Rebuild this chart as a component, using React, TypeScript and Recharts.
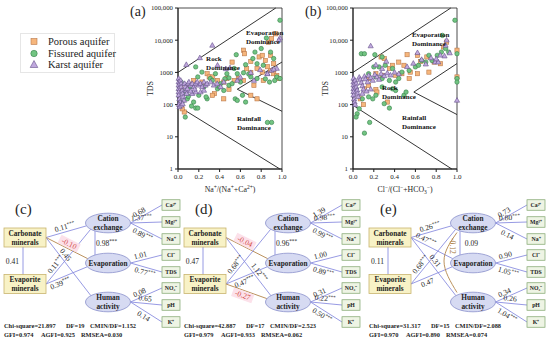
import React from 'react';
import {
  ScatterChart, ComposedChart, Scatter, Line, XAxis, YAxis,
  ReferenceLine, ReferenceArea, Legend,
} from 'recharts';

const FONT = "'Liberation Serif', 'Times New Roman', serif";
const INK = '#1e1e1e';

// ---------- Gibbs diagrams (a) and (b) ----------
const seriesNames = ['Porous aquifer', 'Fissured aquifer', 'Karst aquifer'];
const xTickValues = [0, 0.2, 0.4, 0.6, 0.8, 1];
const yTickValues = [1, 10, 100, 1000, 10000, 100000];

// (a) Na+/(Na+ + Ca2+) against TDS
const porousNa = [
  [0.63, 4900], [0.64, 3800], [0.70, 2190], [0.78, 3020], [0.81, 3390], [0.84, 2340], [0.89, 3390],
  [0.92, 1860], [0.89, 1150], [0.87, 8710], [0.90, 11200], [0.94, 15800], [0.81, 1020], [0.76, 1320],
  [0.70, 977], [0.58, 646], [0.54, 562], [0.63, 562], [0.73, 398], [0.82, 562], [0.92, 912], [0.97, 646],
  [0.28, 912], [0.30, 724], [0.33, 724], [0.38, 562], [0.44, 501], [0.23, 501], [0.15, 562], [0.35, 219],
  [0.33, 195], [0.44, 151], [0.70, 195], [0.76, 151], [0.06, 59], [0.04, 74], [0.03, 309], [0.11, 398],
  [0.47, 646], [0.52, 2090], [0.49, 300], [0.66, 1300], [0.86, 1500], [0.95, 800],
];
const fissuredNa = [
  [0.98, 41700], [0.85, 11700], [0.56, 3550], [0.74, 4270], [0.80, 5500], [0.89, 4270], [0.92, 2690],
  [0.76, 1860], [0.82, 1660], [0.47, 912], [0.49, 676], [0.57, 912], [0.63, 977], [0.70, 724], [0.76, 646],
  [0.88, 501], [0.95, 724], [0.98, 646], [0.17, 1480], [0.23, 1020], [0.19, 724], [0.31, 646], [0.36, 912],
  [0.41, 447], [0.28, 151], [0.27, 174], [0.20, 195], [0.15, 120], [0.09, 151], [0.17, 78], [0.19, 78],
  [0.07, 41], [0.12, 355], [0.06, 245], [0.55, 151], [0.57, 135], [0.62, 195], [0.65, 120], [0.49, 398],
  [0.52, 447], [0.60, 501], [0.54, 1320], [0.65, 1740], [0.72, 2690], [0.86, 28], [0.90, 28], [0.44, 275],
  [0.38, 309], [0.03, 501], [0.04, 120], [0.33, 562], [0.45, 631], [0.25, 355], [0.40, 355], [0.68, 891],
  [0.84, 631], [0.93, 562], [0.10, 180], [0.13, 90],
];
const karstNa = [
  [0.33, 6900], [0.21, 2820], [0.08, 1740], [0.38, 1660], [0.50, 1380], [0.98, 11700], [0.97, 10000],
  [0.95, 1320], [0.90, 1150], [0.86, 912], [0.57, 562], [0.006, 646], [0.006, 501], [0.006, 398],
  [0.006, 309], [0.006, 245], [0.006, 195], [0.013, 151], [0.02, 120], [0.026, 562], [0.03, 447],
  [0.03, 355], [0.04, 275], [0.045, 219], [0.05, 174], [0.058, 135], [0.064, 447], [0.07, 355],
  [0.077, 275], [0.083, 219], [0.09, 309], [0.096, 447], [0.105, 501], [0.12, 398], [0.137, 447],
  [0.153, 355], [0.17, 447], [0.185, 501], [0.2, 398], [0.217, 447], [0.233, 355], [0.25, 501],
  [0.265, 398], [0.28, 447], [0.313, 501], [0.345, 398], [0.377, 447], [0.41, 355], [0.44, 501],
  [0.137, 219], [0.17, 245], [0.217, 245], [0.25, 275], [0.01, 100], [0.015, 85], [0.03, 95],
  [0.045, 105], [0.60, 700], [0.70, 980], [0.79, 1200], [0.86, 900], [0.92, 1250], [0.73, 560],
  [0.46, 1290], [0.12, 260], [0.16, 300],
];
const boundaryNa = [
  [[0, 1000], [0.94, 100000]],
  [[0.57, 300], [1, 2100]],
  [[0.57, 300], [1, 62]],
  [[0, 90], [0.98, 1]],
];
const zonesNa = [
  { x: 0.654, y: 16700, lines: ['Evaporation', 'Dominance'] },
  { x: 0.27, y: 2600, lines: ['Rock', 'Dominance'] },
  { x: 0.567, y: 36, lines: ['Rainfall', 'Dominance'] },
];

// (b) Cl-/(Cl- + HCO3-) against TDS
const porousCl = [
  [0.27, 3020], [0.30, 2690], [0.52, 3550], [0.62, 3390], [0.65, 2190], [0.71, 3020], [0.78, 2090],
  [0.84, 1860], [0.87, 6170], [0.90, 8710], [1.0, 4900], [1.0, 724], [0.44, 2090], [0.49, 1660],
  [0.55, 1020], [0.62, 912], [0.73, 1020], [0.35, 1320], [0.28, 813], [0.22, 912], [0.15, 646],
  [0.11, 309], [0.22, 295], [0.23, 245], [0.15, 398], [0.07, 151], [0.41, 813], [0.38, 1660],
  [0.54, 646], [0.47, 912], [0.33, 120], [0.10, 100],
];
const fissuredCl = [
  [0.98, 41700], [0.86, 14100], [0.89, 5500], [0.92, 4270], [0.85, 4270], [0.81, 3390], [0.73, 3390],
  [0.76, 2340], [0.70, 2090], [1.0, 3800], [1.0, 646], [1.0, 501], [0.08, 3800], [0.11, 3800],
  [0.21, 3550], [0.28, 3020], [0.20, 1480], [0.25, 1480], [0.31, 1660], [0.38, 1320], [0.47, 1020],
  [0.54, 1150], [0.60, 1480], [0.15, 912], [0.22, 724], [0.28, 646], [0.35, 562], [0.41, 501],
  [0.44, 646], [0.38, 309], [0.41, 275], [0.28, 355], [0.22, 195], [0.15, 174], [0.09, 151],
  [0.19, 151], [0.30, 107], [0.35, 78], [0.06, 74], [0.04, 52], [0.03, 41], [0.16, 28], [0.11, 13],
  [0.49, 195], [0.51, 245], [0.03, 309], [0.66, 2340], [0.63, 1660],
];
const karstCl = [
  [0.17, 6600], [0.32, 2190], [0.62, 4070], [0.79, 2090], [0.82, 2090], [0.89, 6900], [0.90, 10000],
  [1.0, 135], [0.005, 650], [0.005, 500], [0.005, 400], [0.005, 310], [0.005, 250], [0.005, 195],
  [0.01, 150], [0.015, 120], [0.02, 100], [0.02, 560], [0.03, 450], [0.03, 350], [0.04, 280],
  [0.045, 220], [0.05, 175], [0.06, 700], [0.07, 600], [0.08, 480], [0.09, 380], [0.10, 300],
  [0.11, 750], [0.12, 620], [0.14, 500], [0.15, 800], [0.17, 680], [0.19, 560], [0.21, 850],
  [0.23, 720], [0.25, 600], [0.27, 900], [0.30, 780], [0.33, 950], [0.36, 820], [0.40, 1000],
  [0.44, 900], [0.22, 1700], [0.28, 1300], [0.52, 1500], [0.58, 1900], [0.66, 2500], [0.70, 1800],
  [0.75, 2800], [0.80, 2600], [0.84, 3400], [0.88, 3200], [0.93, 4000], [0.09, 220], [0.13, 260],
  [0.17, 300],
];
const boundaryCl = [
  [[0, 1000], [0.94, 100000]],
  [[0.585, 245], [1, 1880]],
  [[0.585, 245], [1, 49]],
  [[0, 95], [0.95, 1]],
];
const zonesCl = [
  { x: 0.567, y: 14500, lines: ['Evaporation', 'Dominance'] },
  { x: 0.279, y: 328, lines: ['Rock', 'Dominance'] },
  { x: 0.471, y: 41, lines: ['Rainfall', 'Dominance'] },
];

const MARK = {
  porous: { fill: '#f6b67c', stroke: '#b9784a' },
  fissured: { fill: '#72c482', stroke: '#357f49' },
  karst: { fill: '#c0a8de', stroke: '#655089' },
};

const squareShape = (p: any) => (
  <rect x={p.cx - 2.1} y={p.cy - 2.1} width={4.2} height={4.2}
    fill={MARK.porous.fill} stroke={MARK.porous.stroke} strokeWidth={0.6} />
);
const circleShape = (p: any) => (
  <circle cx={p.cx} cy={p.cy} r={2.2} fill={MARK.fissured.fill} stroke={MARK.fissured.stroke} strokeWidth={0.6} />
);
const triangleShape = (p: any) => (
  <polygon
    points={`${p.cx},${p.cy - 2.8} ${p.cx - 2.6},${p.cy + 1.8} ${p.cx + 2.6},${p.cy + 1.8}`}
    fill={MARK.karst.fill} stroke={MARK.karst.stroke} strokeWidth={0.6} />
);
const zoneShape = (p: any) => (
  <text x={p.cx} y={p.cy} fontFamily={FONT} fontSize={7} fontWeight="bold" fill="#111">
    {p.payload.lines.map((l: string, i: number) => (
      <tspan key={i} x={p.cx} dy={i === 0 ? '0.35em' : 9}>{l}</tspan>
    ))}
  </text>
);

const fmtTds = (v: number) => (v >= 10000 ? v.toLocaleString('en-US') : String(v));
const toPts = (rows: number[][]) => rows.map(([x, y]) => ({ x, y }));

function AquiferLegend() {
  const marks = [
    <rect key="s" x={10} y={2.5} width={6} height={6} fill={MARK.porous.fill} stroke={MARK.porous.stroke} strokeWidth={0.6} />,
    <circle key="c" cx={13} cy={5.5} r={3.2} fill={MARK.fissured.fill} stroke={MARK.fissured.stroke} strokeWidth={0.6} />,
    <polygon key="t" points="13,1.5 9.2,8.5 16.8,8.5" fill={MARK.karst.fill} stroke={MARK.karst.stroke} strokeWidth={0.6} />,
  ];
  return (
    <div style={{
      width: 95, height: 40, border: '1px solid #e6e6e6', boxSizing: 'border-box',
      fontFamily: FONT, fontSize: 10.5, color: '#222', paddingTop: 2,
    }}>
      {seriesNames.map((n, i) => (
        <div key={n} style={{ display: 'flex', alignItems: 'center', height: 11.5 }}>
          <svg width={27} height={11} style={{ flex: 'none' }}>{marks[i]}</svg>
          <span style={{ lineHeight: '11px', whiteSpace: 'nowrap' }}>{n}</span>
        </div>
      ))}
    </div>
  );
}

const supStyle: React.CSSProperties = { fontSize: 5.5, position: 'relative', top: -3 };
const subStyle: React.CSSProperties = { fontSize: 5.5, position: 'relative', top: 1.5 };

function GibbsPlot({ left, tag, porous, fissured, karst, boundary, zones, xTitle, legend }: any) {
  return (
    <div style={{ position: 'absolute', left, top: 0 }}>
      <ScatterChart width={290} height={200} margin={{ top: 8, right: 8, bottom: 11, left: 138 }}>
        <XAxis type="number" dataKey="x" domain={[0, 1]} ticks={xTickValues}
          tickFormatter={(v: number) => v.toFixed(1)}
          tick={{ fontSize: 7, fill: INK, fontFamily: FONT }} tickSize={3} stroke={INK} height={20} />
        <YAxis type="number" dataKey="y" scale="log" domain={[1, 100000]} ticks={yTickValues}
          tickFormatter={fmtTds} tick={{ fontSize: 6.8, fill: INK, fontFamily: FONT }}
          tickSize={3} stroke={INK} width={40}
          label={{
            content: (lp: any) => {
              const vb = lp.viewBox;
              const x = vb.x + 12;
              const y = vb.y + vb.height / 2;
              return (
                <text x={x} y={y} transform={`rotate(-90 ${x} ${y})`} textAnchor="middle"
                  dominantBaseline="central" fontFamily={FONT} fontSize={8} fill={INK}>TDS</text>
              );
            },
          }} />
        <ReferenceArea x1={0} x2={1} y1={1} y2={100000} fill="none" stroke={INK} strokeWidth={0.8} />
        {boundary.map((seg: number[][], i: number) => (
          <ReferenceLine key={i} segment={[{ x: seg[0][0], y: seg[0][1] }, { x: seg[1][0], y: seg[1][1] }]}
            stroke={INK} strokeWidth={0.9} />
        ))}
        <Scatter name={seriesNames[0]} data={toPts(porous)} shape={squareShape} isAnimationActive={false} />
        <Scatter name={seriesNames[1]} data={toPts(fissured)} shape={circleShape} isAnimationActive={false} />
        <Scatter name={seriesNames[2]} data={toPts(karst)} shape={triangleShape} isAnimationActive={false} />
        <Scatter data={zones} shape={zoneShape} legendType="none" isAnimationActive={false} />
        {legend && (
          <Legend layout="horizontal" verticalAlign="middle" align="center"
            content={() => <AquiferLegend />}
            wrapperStyle={{ left: 20, top: 33, width: 95, height: 40 }} />
        )}
      </ScatterChart>
      <div style={{ position: 'absolute', left: 130, top: 4, fontFamily: FONT, fontSize: 14, lineHeight: '16px', color: INK }}>
        {tag}
      </div>
      <div style={{
        position: 'absolute', left: 178, width: 104, top: 185, textAlign: 'center',
        fontFamily: FONT, fontSize: 7.8, lineHeight: '10px', color: INK, whiteSpace: 'nowrap',
      }}>
        {xTitle}
      </div>
    </div>
  );
}

// ---------- SEM path diagrams (c), (d), (e) ----------
const panelTags = ['(c)', '(d)', '(e)'];
const mineralNames = [['Carbonate', 'minerals'], ['Evaporite', 'minerals']];
const latentNames = [['Cation', 'exchange'], ['Evaporation'], ['Human', 'activity']];
const indicatorNames = ['Ca²⁺', 'Mg²⁺', 'Na⁺', 'Cl⁻', 'TDS', 'NO₃⁻', 'pH', 'K⁺'];
const mineralCorr = ['0.41', '0.47', '0.11'];
const cationToEvap = ['0.98***', '0.96***', '0.09'];

const pathsC = [
  ['carb', 'cat', '0.11***'], ['carb', 'evap', '-0.10'], ['carb', 'hum', '0.45'],
  ['evpr', 'cat', '0.11***'], ['evpr', 'evap', '0.39***'],
];
const pathsD = [
  ['carb', 'evap', '-0.04'], ['carb', 'hum', '1.12***'], ['evpr', 'cat', '0.68***'],
  ['evpr', 'evap', '0.47***'], ['evpr', 'hum', '-0.27'],
];
const pathsE = [
  ['carb', 'cat', '0.26***'], ['carb', 'evap', '0.47***'], ['carb', 'hum', '0.31'],
  ['evpr', 'cat', '0.68***'], ['evpr', 'evap', '0.47'],
];
const curvedE = ['cat', 'hum', '-0.12'];

const loadingsC = ['0.68', '1.37***', '0.89***', '1.01', '0.77***', '0.08', '0.65', '0.14'];
const loadingsD = ['1.39', '0.98***', '0.99***', '1.00', '0.89***', '0.31', '0.22***', '0.50***'];
const loadingsE = ['0.73', '0.80***', '0.14', '0.90', '1.05***', '0.34', '0.26', '1.04***'];

const statsC = ['Chi-square=21.897', 'DF=19', 'CMIN/DF=1.152', 'GFI=0.974', 'AGFI=0.925', 'RMSEA=0.030'];
const statsD = ['Chi-square=42.887', 'DF=17', 'CMIN/DF=2.523', 'GFI=0.979', 'AGFI=0.933', 'RMSEA=0.062'];
const statsE = ['Chi-square=31.317', 'DF=15', 'CMIN/DF=2.088', 'GFI=0.970', 'AGFI=0.890', 'RMSEA=0.074'];

// layout of the diagram, in panel pixels
const SEM = {
  w: 185,
  h: 145,
  nodes: {
    carb: { x: 25, y: 42.5 }, evpr: { x: 25, y: 89 },
    cat: { x: 108, y: 28 }, evap: { x: 108, y: 68 }, hum: { x: 108, y: 107 },
  } as Record<string, { x: number; y: number }>,
  box: { w: 42, h: 19 },
  ell: { rx: 22.5, ry: 9.8 },
  ind: { x: 171, w: 18, h: 10.5 },
  indY: [10, 27, 44, 60, 77, 93, 110, 127],
  indOwner: ['cat', 'cat', 'cat', 'evap', 'evap', 'hum', 'hum', 'hum'],
  curve: [{ x: 92, y: 37.5 }, { x: 79, y: 66 }, { x: 92, y: 97.5 }],
  curveLabel: { x: 87, y: 51 },
  statCols: [[4, 66, 90], [4, 41, 81]],
};
const pathPlaceC = [[0.5, 1], [0.5, 1], [0.35, 1], [0.3, 1], [0.3, -1]];
const pathPlaceD = [[0.4, 1], [0.65, 1], [0.3, 1], [0.4, -1], [0.45, -1]];
const pathPlaceE = [[0.5, 1], [0.3, 1], [0.45, 1], [0.3, 1], [0.35, -1]];
const loadPlaceC = [[0.35, 1], [0.35, 1], [0.45, -1], [0.35, 1], [0.5, -1], [0.35, 1], [0.45, 1], [0.5, -1]];
const loadPlaceDE = [[0.35, 1], [0.45, 1], [0.45, -1], [0.35, 1], [0.45, -1], [0.35, 1], [0.45, 1], [0.45, -1]];

const EDGE = '#8b8fe0';
const EDGE_NEG = '#b3864c';

function pathEnds(from: string, to: string) {
  const a = SEM.nodes[from];
  const c = SEM.nodes[to];
  const s = { x: a.x + SEM.box.w / 2, y: a.y };
  const dx = c.x - s.x;
  const dy = c.y - s.y;
  const phi = Math.atan2(Math.abs(dy) / SEM.ell.ry, Math.abs(dx) / SEM.ell.rx) * 0.6;
  const e = { x: c.x - SEM.ell.rx * Math.cos(phi), y: c.y - Math.sign(dy) * SEM.ell.ry * Math.sin(phi) };
  return [s, e];
}

function labelOn(s: any, e: any, t: number, side: number) {
  const dx = e.x - s.x;
  const dy = e.y - s.y;
  const len = Math.hypot(dx, dy);
  return {
    x: s.x + dx * t + (dy / len) * side * 5,
    y: s.y + dy * t + (-dx / len) * side * 5,
    angle: (Math.atan2(dy, dx) * 180) / Math.PI,
  };
}

function semNode(p: any) {
  const { cx, cy, payload: n } = p;
  const lines = (ls: string[], size: number, gap: number) =>
    ls.map((l, i) => (
      <text key={i} x={cx} y={cy + (i - (ls.length - 1) / 2) * gap} textAnchor="middle"
        dominantBaseline="central" fontFamily={FONT} fontWeight="bold" fontSize={size} fill="#222">{l}</text>
    ));
  if (n.kind === 'mineral') {
    return (
      <g>
        <rect x={cx - SEM.box.w / 2} y={cy - SEM.box.h / 2} width={SEM.box.w} height={SEM.box.h}
          fill="#f8f2c6" stroke="#c8b46e" strokeWidth={0.8} />
        {lines(n.lines, 7.3, 9)}
      </g>
    );
  }
  if (n.kind === 'latent') {
    return (
      <g>
        <ellipse cx={cx} cy={cy} rx={SEM.ell.rx} ry={SEM.ell.ry} fill="#d6daf2" stroke="#8a90cc" strokeWidth={0.8} />
        {lines(n.lines, 7.3, 8.5)}
      </g>
    );
  }
  return (
    <g>
      <rect x={cx - SEM.ind.w / 2} y={cy - SEM.ind.h / 2} width={SEM.ind.w} height={SEM.ind.h}
        fill="#eef4e4" stroke="#7da36a" strokeWidth={0.7} />
      {lines(n.lines, 5.8, 0)}
    </g>
  );
}

function semText(p: any) {
  const { cx, cy, payload: d } = p;
  if (d.kind === 'coef') {
    const m = /^(-?[\d.]+)(\**)$/.exec(d.text);
    const base = m ? m[1] : d.text;
    const stars = m ? m[2] : '';
    const neg = base.startsWith('-');
    const w = base.length * 3.9 + stars.length * 2.4 + 2;
    const color = d.plain && neg ? '#a4763c' : neg ? '#d2473f' : INK;
    return (
      <g transform={`translate(${cx},${cy}) rotate(${d.angle})`}>
        {neg && !d.plain && <rect x={-w / 2} y={-4.5} width={w} height={9} fill="#fce1ea" />}
        <text x={0} y={0} textAnchor="middle" dominantBaseline="central" fontFamily={FONT}
          fontSize={7.6} fill={color}>
          {base}
          {stars && <tspan fontSize={5.2} dy={-2.2}>{stars}</tspan>}
        </text>
      </g>
    );
  }
  if (d.kind === 'tag') {
    return (
      <text x={cx} y={cy} dominantBaseline="central" fontFamily={FONT} fontSize={15} fill={INK}>{d.text}</text>
    );
  }
  // model fit statistics line
  return (
    <text y={cy} dominantBaseline="central" fontFamily={FONT} fontSize={6.4} fontWeight="bold" fill={INK}>
      {d.cols.map((c: string, i: number) => (
        <tspan key={i} x={d.xs[i]}>{c}</tspan>
      ))}
    </text>
  );
}

function SemPanel({ left, idx, paths, pathPlace, loadings, loadPlace, stats, curved }: any) {
  const N = SEM.nodes;
  const nodes = [
    { ...N.carb, kind: 'mineral', lines: mineralNames[0] },
    { ...N.evpr, kind: 'mineral', lines: mineralNames[1] },
    { ...N.cat, kind: 'latent', lines: latentNames[0] },
    { ...N.evap, kind: 'latent', lines: latentNames[1] },
    { ...N.hum, kind: 'latent', lines: latentNames[2] },
    ...indicatorNames.map((name, i) => ({ x: SEM.ind.x, y: SEM.indY[i], kind: 'ind', lines: [name] })),
  ];

  const segs: any[] = [];
  const texts: any[] = [];

  paths.forEach(([from, to, coef]: string[], i: number) => {
    const [s, e] = pathEnds(from, to);
    const neg = coef.startsWith('-');
    segs.push({ s, e, color: neg ? EDGE_NEG : EDGE });
    const lp = labelOn(s, e, pathPlace[i][0], pathPlace[i][1]);
    texts.push({ kind: 'coef', text: coef, ...lp });
  });

  loadings.forEach((coef: string, i: number) => {
    const owner = N[SEM.indOwner[i]];
    const s = { x: owner.x + SEM.ell.rx, y: owner.y };
    const e = { x: SEM.ind.x - SEM.ind.w / 2, y: SEM.indY[i] };
    segs.push({ s, e, color: EDGE });
    texts.push({ kind: 'coef', text: coef, ...labelOn(s, e, loadPlace[i][0], loadPlace[i][1]) });
  });

  // mineral correlation and cation exchange -> evaporation
  segs.push({ s: { x: 23, y: N.carb.y + SEM.box.h / 2 }, e: { x: 23, y: N.evpr.y - SEM.box.h / 2 + 0.5 }, color: EDGE });
  texts.push({ kind: 'coef', text: mineralCorr[idx], x: 12.5, y: 66, angle: 0 });
  segs.push({ s: { x: 95, y: N.cat.y + 8 }, e: { x: 95, y: N.evap.y - 7.5 }, color: EDGE });
  texts.push({ kind: 'coef', text: cationToEvap[idx], x: 106.5, y: 48, angle: 0 });

  if (curved) texts.push({ kind: 'coef', text: curved[2], ...SEM.curveLabel, angle: 90, plain: true });

  texts.push({ kind: 'tag', text: panelTags[idx], x: 15, y: 13.5 });
  texts.push({ kind: 'stats', x: SEM.statCols[0][0], y: 130, cols: stats.slice(0, 3), xs: SEM.statCols[0] });
  texts.push({ kind: 'stats', x: SEM.statCols[1][0], y: 139, cols: stats.slice(3), xs: SEM.statCols[1] });

  return (
    <div style={{ position: 'absolute', left, top: 195 }}>
      <ComposedChart width={SEM.w} height={SEM.h} margin={{ top: 0, right: 0, bottom: 0, left: 0 }}>
        <XAxis type="number" dataKey="x" domain={[0, SEM.w]} allowDataOverflow hide />
        <YAxis type="number" dataKey="y" domain={[0, SEM.h]} reversed allowDataOverflow hide />
        {segs.map((g, i) => (
          <ReferenceLine key={i} segment={[g.s, g.e]} stroke={g.color} strokeWidth={0.9} ifOverflow="visible" />
        ))}
        {curved && (
          <Line data={SEM.curve} dataKey="y" type="natural" stroke={EDGE_NEG} strokeWidth={0.9}
            dot={false} activeDot={false} isAnimationActive={false} />
        )}
        <Scatter data={nodes} shape={semNode} isAnimationActive={false} />
        <Scatter data={texts} shape={semText} isAnimationActive={false} />
      </ComposedChart>
    </div>
  );
}

export default function App() {
  return (
    <div style={{ position: 'absolute', left: 0, top: 0, width: 550, height: 340, background: '#fff', overflow: 'hidden' }}>
      <GibbsPlot left={0} tag="(a)" porous={porousNa} fissured={fissuredNa} karst={karstNa}
        boundary={boundaryNa} zones={zonesNa} legend
        xTitle={<span>Na<span style={supStyle}>+</span>/(Na<span style={supStyle}>+</span>+Ca<span style={supStyle}>2+</span>)</span>} />
      <GibbsPlot left={175} tag="(b)" porous={porousCl} fissured={fissuredCl} karst={karstCl}
        boundary={boundaryCl} zones={zonesCl}
        xTitle={<span>Cl<span style={supStyle}>−</span>/(Cl<span style={supStyle}>−</span>+HCO<span style={subStyle}>3</span><span style={supStyle}>−</span>)</span>} />
      <SemPanel left={0} idx={0} paths={pathsC} pathPlace={pathPlaceC} loadings={loadingsC}
        loadPlace={loadPlaceC} stats={statsC} />
      <SemPanel left={180} idx={1} paths={pathsD} pathPlace={pathPlaceD} loadings={loadingsD}
        loadPlace={loadPlaceDE} stats={statsD} />
      <SemPanel left={365} idx={2} paths={pathsE} pathPlace={pathPlaceE} loadings={loadingsE}
        loadPlace={loadPlaceDE} stats={statsE} curved={curvedE} />
    </div>
  );
}
